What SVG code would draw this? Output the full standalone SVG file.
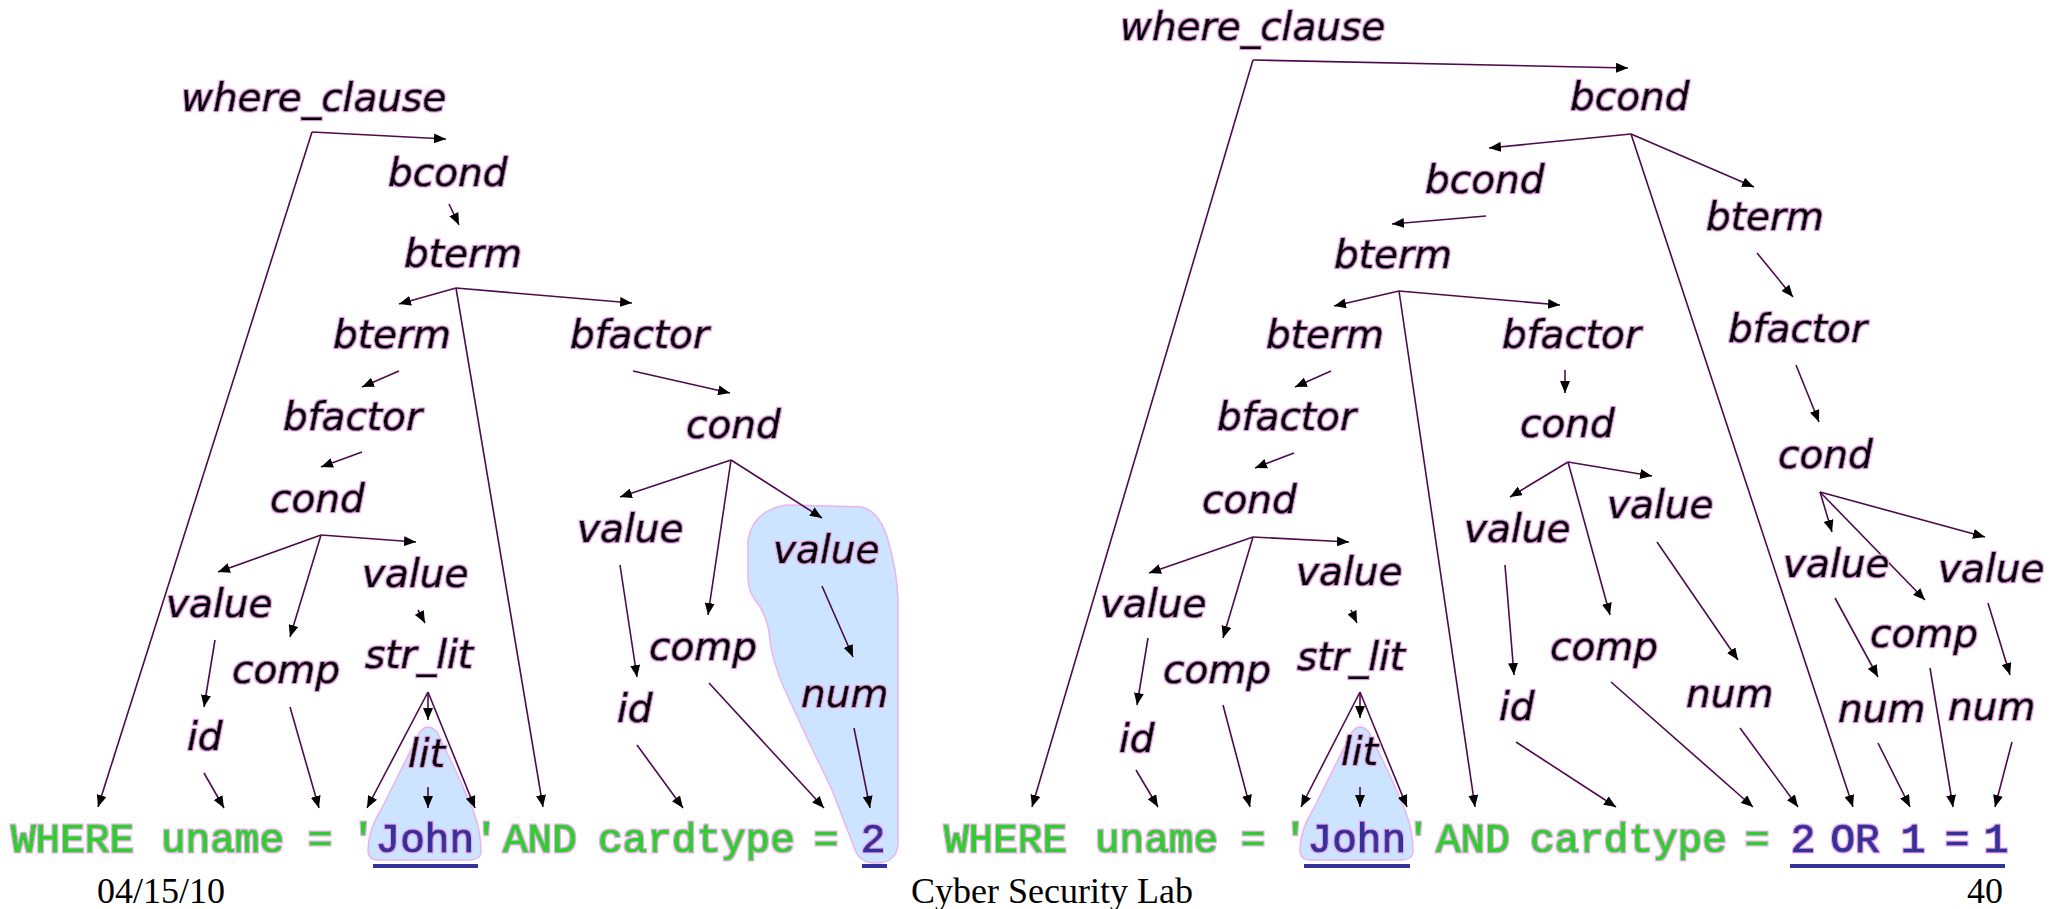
<svg xmlns="http://www.w3.org/2000/svg" width="2063" height="909" viewBox="0 0 2063 909">
<defs>
<marker id="ah" viewBox="0 0 12 10" refX="12" refY="5" markerWidth="12" markerHeight="10" markerUnits="userSpaceOnUse" orient="auto">
<path d="M0,0 L12,5 L0,10 Z" fill="#000"/>
</marker>
<filter id="halo" x="-10%" y="-30%" width="120%" height="160%">
<feMorphology in="SourceAlpha" operator="dilate" radius="1.2" result="d"/>
<feFlood flood-color="#eeaaee" result="p"/>
<feComposite in="p" in2="d" operator="in" result="h"/>
<feMerge><feMergeNode in="h"/><feMergeNode in="SourceGraphic"/></feMerge>
</filter>
<style>
.n{font-family:"DejaVu Sans",sans-serif;font-style:italic;font-size:39px;fill:#000;stroke:#000;stroke-width:0.7;filter:url(#halo);}
.c{stroke:#4d0a4d;stroke-width:1.6;fill:none;marker-end:url(#ah);}
.g{font-family:"Liberation Mono",monospace;font-size:41px;fill:#33cc33;stroke:#33cc33;stroke-width:1.1;filter:url(#halo);}
.b{fill:#333399;stroke:#333399;}
.ul{fill:#333399;}
.blob{fill:#cce4ff;stroke:#e9b3ef;stroke-width:1.5;}
.f{font-family:"Liberation Serif",serif;font-size:36px;fill:#000;}
</style>
</defs>
<rect width="2063" height="909" fill="#fff"/>

<g id="highlights">
<path class="blob" d="M420,732 Q428,722 437,732 L460,780 L473,810 Q481,830 481,852 Q480,860 470,860 L378,860 Q368,860 368,850 Q368,830 382,808 Z"/>
<path class="blob" d="M790,505 L862,507 Q880,512 888,540 Q897,570 898,600 L898,845 Q896,862 878,863 Q862,864 856,852 L832,790 L808,740 L784,688 Q772,660 770,640 Q768,615 755,600 Q747,590 748,570 L748,540 Q752,518 770,510 Q780,505 790,505 Z"/>
<path class="blob" d="M1352,732 Q1360,722 1369,732 L1392,780 L1405,810 Q1413,830 1413,852 Q1412,860 1402,860 L1310,860 Q1300,860 1300,850 Q1300,830 1314,808 Z"/>
</g>

<g id="connectors">
<!-- tree 1 -->
<line class="c" x1="312" y1="132" x2="446" y2="139"/>
<line class="c" x1="312" y1="132" x2="98" y2="807"/>
<line class="c" x1="449" y1="204" x2="459" y2="225"/>
<line class="c" x1="456" y1="288" x2="399" y2="304"/>
<line class="c" x1="456" y1="288" x2="632" y2="303"/>
<line class="c" x1="456" y1="288" x2="543" y2="807"/>
<line class="c" x1="399" y1="371" x2="362" y2="387"/>
<line class="c" x1="362" y1="452" x2="321" y2="467"/>
<line class="c" x1="633" y1="371" x2="730" y2="393"/>
<line class="c" x1="731" y1="460" x2="620" y2="497"/>
<line class="c" x1="731" y1="460" x2="708" y2="615"/>
<line class="c" x1="731" y1="460" x2="822" y2="518"/>
<line class="c" x1="321" y1="535" x2="218" y2="572"/>
<line class="c" x1="321" y1="535" x2="290" y2="637"/>
<line class="c" x1="321" y1="535" x2="416" y2="542"/>
<line class="c" x1="418" y1="610" x2="425" y2="623"/>
<line class="c" x1="215" y1="640" x2="204" y2="707"/>
<line class="c" x1="204" y1="773" x2="224" y2="808"/>
<line class="c" x1="290" y1="707" x2="319" y2="808"/>
<line class="c" x1="428" y1="692" x2="367" y2="808"/>
<line class="c" x1="428" y1="692" x2="428" y2="720"/>
<line class="c" x1="428" y1="692" x2="475" y2="808"/>
<line class="c" x1="428" y1="787" x2="428" y2="808"/>
<line class="c" x1="620" y1="565" x2="637" y2="677"/>
<line class="c" x1="637" y1="745" x2="683" y2="808"/>
<line class="c" x1="709" y1="683" x2="824" y2="808"/>
<line class="c" x1="822" y1="586" x2="853" y2="657"/>
<line class="c" x1="854" y1="728" x2="870" y2="808"/>
<!-- tree 2 -->
<line class="c" x1="1253" y1="60" x2="1628" y2="68"/>
<line class="c" x1="1253" y1="60" x2="1032" y2="807"/>
<line class="c" x1="1631" y1="134" x2="1489" y2="148"/>
<line class="c" x1="1631" y1="134" x2="1754" y2="187"/>
<line class="c" x1="1631" y1="134" x2="1853" y2="807"/>
<line class="c" x1="1486" y1="216" x2="1392" y2="224"/>
<line class="c" x1="1399" y1="291" x2="1334" y2="306"/>
<line class="c" x1="1399" y1="291" x2="1560" y2="305"/>
<line class="c" x1="1399" y1="291" x2="1475" y2="807"/>
<line class="c" x1="1757" y1="253" x2="1793" y2="297"/>
<line class="c" x1="1796" y1="365" x2="1819" y2="422"/>
<line class="c" x1="1331" y1="371" x2="1295" y2="387"/>
<line class="c" x1="1294" y1="453" x2="1255" y2="468"/>
<line class="c" x1="1565" y1="370" x2="1565" y2="393"/>
<line class="c" x1="1568" y1="462" x2="1510" y2="497"/>
<line class="c" x1="1568" y1="462" x2="1610" y2="615"/>
<line class="c" x1="1568" y1="462" x2="1652" y2="476"/>
<line class="c" x1="1253" y1="537" x2="1149" y2="573"/>
<line class="c" x1="1253" y1="537" x2="1223" y2="638"/>
<line class="c" x1="1253" y1="537" x2="1349" y2="542"/>
<line class="c" x1="1820" y1="492" x2="1832" y2="532"/>
<line class="c" x1="1820" y1="492" x2="1925" y2="600"/>
<line class="c" x1="1820" y1="492" x2="1985" y2="537"/>
<line class="c" x1="1351" y1="610" x2="1357" y2="623"/>
<line class="c" x1="1148" y1="638" x2="1137" y2="705"/>
<line class="c" x1="1136" y1="770" x2="1158" y2="807"/>
<line class="c" x1="1223" y1="705" x2="1250" y2="807"/>
<line class="c" x1="1360" y1="692" x2="1301" y2="807"/>
<line class="c" x1="1360" y1="692" x2="1360" y2="718"/>
<line class="c" x1="1360" y1="692" x2="1407" y2="807"/>
<line class="c" x1="1360" y1="787" x2="1360" y2="807"/>
<line class="c" x1="1505" y1="565" x2="1514" y2="675"/>
<line class="c" x1="1516" y1="742" x2="1616" y2="807"/>
<line class="c" x1="1611" y1="682" x2="1753" y2="807"/>
<line class="c" x1="1657" y1="542" x2="1738" y2="660"/>
<line class="c" x1="1740" y1="728" x2="1798" y2="807"/>
<line class="c" x1="1835" y1="598" x2="1878" y2="677"/>
<line class="c" x1="1988" y1="603" x2="2010" y2="675"/>
<line class="c" x1="1878" y1="743" x2="1910" y2="807"/>
<line class="c" x1="1930" y1="668" x2="1953" y2="807"/>
<line class="c" x1="2012" y1="742" x2="1995" y2="807"/>
</g>

<!-- tree 1 nodes -->
<g id="t1-where_clause"><text class="n" x="181" y="111">where_clause</text></g>
<g id="t1-bcond"><text class="n" x="388" y="186">bcond</text></g>
<g id="t1-bterm"><text class="n" x="404" y="267">bterm</text></g>
<g id="t1-bterm2"><text class="n" x="333" y="348">bterm</text></g>
<g id="t1-bfactor-r"><text class="n" x="570" y="348">bfactor</text></g>
<g id="t1-bfactor-l"><text class="n" x="283" y="430">bfactor</text></g>
<g id="t1-cond-r"><text class="n" x="686" y="438">cond</text></g>
<g id="t1-cond-l"><text class="n" x="270" y="512">cond</text></g>
<g id="t1-value-m"><text class="n" x="577" y="542">value</text></g>
<g id="t1-value-hl"><text class="n" x="773" y="563">value</text></g>
<g id="t1-value-s"><text class="n" x="362" y="587">value</text></g>
<g id="t1-value-l"><text class="n" x="166" y="617">value</text></g>
<g id="t1-comp-m"><text class="n" x="649" y="660">comp</text></g>
<g id="t1-str_lit"><text class="n" x="365" y="668">str_lit</text></g>
<g id="t1-comp-l"><text class="n" x="232" y="683">comp</text></g>
<g id="t1-num"><text class="n" x="801" y="707">num</text></g>
<g id="t1-id-m"><text class="n" x="617" y="722">id</text></g>
<g id="t1-id-l"><text class="n" x="187" y="750">id</text></g>
<g id="t1-lit"><text class="n" x="408" y="767">lit</text></g>

<!-- tree 2 nodes -->
<g id="t2-where_clause"><text class="n" x="1120" y="40">where_clause</text></g>
<g id="t2-bcond"><text class="n" x="1570" y="110">bcond</text></g>
<g id="t2-bcond2"><text class="n" x="1425" y="193">bcond</text></g>
<g id="t2-bterm-r"><text class="n" x="1706" y="230">bterm</text></g>
<g id="t2-bterm"><text class="n" x="1334" y="268">bterm</text></g>
<g id="t2-bfactor-r"><text class="n" x="1728" y="342">bfactor</text></g>
<g id="t2-bterm2"><text class="n" x="1266" y="348">bterm</text></g>
<g id="t2-bfactor-m"><text class="n" x="1502" y="348">bfactor</text></g>
<g id="t2-bfactor-l"><text class="n" x="1217" y="430">bfactor</text></g>
<g id="t2-cond-m"><text class="n" x="1520" y="437">cond</text></g>
<g id="t2-cond-r"><text class="n" x="1778" y="468">cond</text></g>
<g id="t2-cond-l"><text class="n" x="1202" y="513">cond</text></g>
<g id="t2-value-mr"><text class="n" x="1607" y="518">value</text></g>
<g id="t2-value-ml"><text class="n" x="1464" y="542">value</text></g>
<g id="t2-value-rl"><text class="n" x="1783" y="577">value</text></g>
<g id="t2-value-rr"><text class="n" x="1938" y="582">value</text></g>
<g id="t2-value-s"><text class="n" x="1296" y="585">value</text></g>
<g id="t2-value-l"><text class="n" x="1100" y="617">value</text></g>
<g id="t2-comp-r"><text class="n" x="1870" y="647">comp</text></g>
<g id="t2-comp-m"><text class="n" x="1550" y="660">comp</text></g>
<g id="t2-str_lit"><text class="n" x="1297" y="670">str_lit</text></g>
<g id="t2-comp-l"><text class="n" x="1163" y="683">comp</text></g>
<g id="t2-num-m"><text class="n" x="1686" y="707">num</text></g>
<g id="t2-id-m"><text class="n" x="1499" y="720">id</text></g>
<g id="t2-num-rl"><text class="n" x="1838" y="722">num</text></g>
<g id="t2-num-rr"><text class="n" x="1948" y="720">num</text></g>
<g id="t2-id-l"><text class="n" x="1119" y="752">id</text></g>
<g id="t2-lit"><text class="n" x="1341" y="765">lit</text></g>

<!-- SQL strings -->
<g id="sql1">
<text class="g" x="11" y="852">WHERE</text>
<text class="g" x="161" y="852">uname</text>
<text class="g" x="320" y="852" text-anchor="middle">=</text>
<text class="g" x="351" y="852">'<tspan class="b">John</tspan>'</text>
<text class="g" x="503" y="852">AND</text>
<text class="g" x="598" y="852">cardtype</text>
<text class="g" x="826" y="852" text-anchor="middle">=</text>
<text class="g b" x="873" y="852" text-anchor="middle">2</text>
<rect class="ul" x="373" y="864" width="105" height="4"/>
<rect class="ul" x="862" y="864" width="25" height="4"/>
</g>
<g id="sql2">
<text class="g" x="944" y="852">WHERE</text>
<text class="g" x="1095" y="852">uname</text>
<text class="g" x="1253" y="852" text-anchor="middle">=</text>
<text class="g" x="1283" y="852">'<tspan class="b">John</tspan>'</text>
<text class="g" x="1436" y="852">AND</text>
<text class="g" x="1530" y="852">cardtype</text>
<text class="g" x="1757" y="852" text-anchor="middle">=</text>
<text class="g b" x="1803" y="852" text-anchor="middle">2</text>
<text class="g b" x="1855" y="852" text-anchor="middle">OR</text>
<text class="g b" x="1913" y="852" text-anchor="middle">1</text>
<text class="g b" x="1957" y="852" text-anchor="middle">=</text>
<text class="g b" x="1996" y="852" text-anchor="middle">1</text>
<rect class="ul" x="1304" y="864" width="106" height="4"/>
<rect class="ul" x="1790" y="864" width="215" height="4"/>
</g>

<g id="footer">
<text class="f" x="97" y="903">04/15/10</text>
<text class="f" x="1052" y="903" text-anchor="middle">Cyber Security Lab</text>
<text class="f" x="2003" y="903" text-anchor="end">40</text>
</g>
</svg>
